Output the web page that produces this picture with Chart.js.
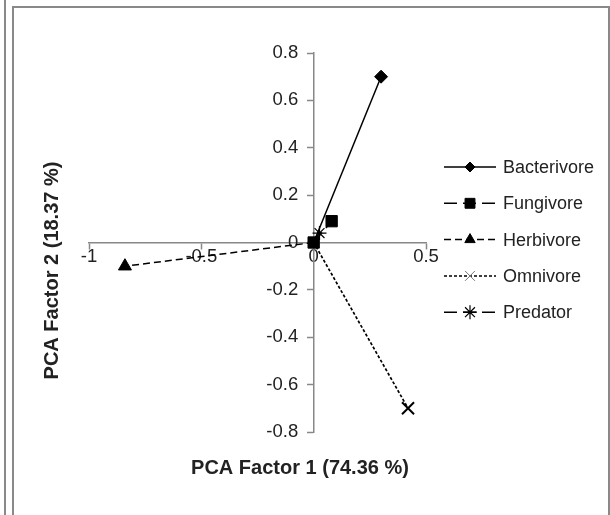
<!DOCTYPE html>
<html>
<head>
<meta charset="utf-8">
<script src="https://cdn.jsdelivr.net/npm/chart.js@4.4.0/dist/chart.umd.min.js"></script>
<style>
  body { margin: 0; background: #fff; }
  #wrap { position: relative; width: 610px; height: 515px; overflow: hidden; }
  canvas { position: absolute; left: 0; top: 0; }
  .rule { position: absolute; background: #898989; }
  .tag { position: absolute; left: 22px; top: -29px; font: 26px "Liberation Sans", Arial, sans-serif; color: #222; letter-spacing: 4px; }
</style>
</head>
<body>
<div id="wrap">
  <canvas id="pcaChart" width="610" height="515"></canvas>
  <div class="rule" style="left:4px;top:0;width:2px;height:515px"></div>
  <div class="rule" style="left:12px;top:6px;width:2px;height:509px"></div>
  <div class="rule" style="left:12px;top:6px;width:598px;height:2px"></div>
  <div class="rule" style="left:608px;top:6px;width:2px;height:509px"></div>
  <div class="tag">(b)</div>
</div>
<script>
// PCA loadings of nematode feeding groups
const groups = ["Bacterivore", "Fungivore", "Herbivore", "Omnivore", "Predator"];
const factor1 = [0.30, 0.08, -0.84, 0.42, 0.026];
const factor2 = [0.70, 0.09, -0.10, -0.70, 0.04];
const xTickValues = [-1, -0.5, 0, 0.5];
const yTickValues = [0.8, 0.6, 0.4, 0.2, 0, -0.2, -0.4, -0.6, -0.8];
const xTitle = "PCA Factor 1 (74.36 %)";
const yTitle = "PCA Factor 2 (18.37 %)";

const FONT = '"Liberation Sans", Arial, sans-serif';
const AXIS = "#888";

// line / marker look of each series
const looks = [
  { style: "rectRot", r: 6.5, dash: [], bw: 1, legendR: 5 },
  { style: "rect", r: 8, dash: [13, 6], bw: 1, legendR: 7, atOrigin: true },
  { style: "triangle", r: 7.5, dash: [7, 4], bw: 1, legendR: 6 },
  { style: "crossRot", r: 8.5, dash: [3, 2], bw: 2, legendR: 7, legendBw: 1, legendColor: "#777" },
  { style: "star", r: 7, dash: [13, 6], bw: 1.2, legendR: 7 }
];

const datasets = groups.map((name, i) => {
  const look = looks[i];
  return {
    label: name,
    data: [{ x: 0, y: 0 }, { x: factor1[i], y: factor2[i] }],
    showLine: true,
    borderColor: "#000",
    backgroundColor: "#000",
    borderWidth: i === 3 ? 1.7 : 1.5,
    borderDash: look.dash,
    pointStyle: look.style,
    pointRadius: look.atOrigin ? [look.r, look.r] : [0, look.r],
    pointBorderWidth: look.bw,
    pointBackgroundColor: "#000",
    pointBorderColor: "#000"
  };
});

const axisTitles = {
  id: "axisTitles",
  afterDraw(chart) {
    const { ctx, chartArea } = chart;
    ctx.save();
    ctx.font = "bold 20px " + FONT;
    ctx.fillStyle = "#222";
    ctx.textAlign = "center";
    ctx.textBaseline = "middle";
    ctx.fillText(xTitle, chartArea.left + 211, chartArea.bottom + 36);
    ctx.translate(chartArea.left - 37, (chartArea.top + chartArea.bottom) / 2 + 28);
    ctx.rotate(-Math.PI / 2);
    ctx.fillText(yTitle, 0, 0);
    ctx.restore();
  }
};

const sideLegend = {
  id: "sideLegend",
  afterDraw(chart) {
    const { ctx, chartArea } = chart;
    const x0 = chartArea.right + 18;
    const top = 167;
    chart.data.datasets.forEach((ds, i) => {
      const look = looks[i];
      const y = top + i * 36.3;
      ctx.save();
      ctx.strokeStyle = "#000";
      ctx.lineWidth = 1.5;
      ctx.setLineDash(ds.borderDash);
      ctx.beginPath();
      ctx.moveTo(x0, y);
      ctx.lineTo(x0 + 52, y);
      ctx.stroke();
      ctx.setLineDash([]);
      ctx.fillStyle = look.legendColor || "#000";
      ctx.strokeStyle = look.legendColor || "#000";
      ctx.lineWidth = look.legendBw || look.bw;
      Chart.helpers.drawPoint(ctx, {
        pointStyle: look.style,
        radius: look.legendR,
        rotation: 0,
        borderWidth: look.legendBw || look.bw
      }, x0 + 26, y);
      ctx.fillStyle = "#222";
      ctx.font = "18px " + FONT;
      ctx.textAlign = "left";
      ctx.textBaseline = "middle";
      ctx.fillText(ds.label, x0 + 59, y + 1);
      ctx.restore();
    });
  }
};

const tickFont = { family: FONT, size: 18.5 };
const label = v => String(Math.round(v * 10) / 10);
// labels of the centred y axis are right-aligned on the axis line, so pad them away from it
const yLabel = v => label(v) + "   ";

new Chart(document.getElementById("pcaChart"), {
  type: "scatter",
  data: { datasets: datasets },
  options: {
    responsive: false,
    animation: false,
    layout: { padding: { left: 89, right: 184, top: 53, bottom: 83 } },
    plugins: { legend: { display: false }, tooltip: { enabled: false } },
    scales: {
      x: {
        type: "linear",
        min: -1,
        max: 0.5,
        position: { y: 0 },
        afterBuildTicks: s => { s.ticks = xTickValues.map(v => ({ value: v })); },
        afterFit: s => { s.height = 0; },
        grid: { drawOnChartArea: false, drawTicks: true, tickLength: 6, tickWidth: 1.5, tickColor: AXIS },
        border: { color: AXIS, width: 1.5 },
        ticks: { padding: -3, color: "#222", font: tickFont, maxRotation: 0, autoSkip: false, callback: label }
      },
      y: {
        type: "linear",
        min: -0.8,
        max: 0.8,
        position: { x: 0 },
        afterBuildTicks: s => { s.ticks = yTickValues.map(v => ({ value: v })); },
        afterFit: s => { s.width = 0; },
        grid: { drawOnChartArea: false, drawTicks: true, tickLength: 6, tickWidth: 1.5, tickColor: AXIS },
        border: { color: AXIS, width: 1.5 },
        ticks: { padding: 10, color: "#222", font: tickFont, autoSkip: false, callback: yLabel }
      }
    }
  },
  plugins: [axisTitles, sideLegend]
});
</script>
</body>
</html>
